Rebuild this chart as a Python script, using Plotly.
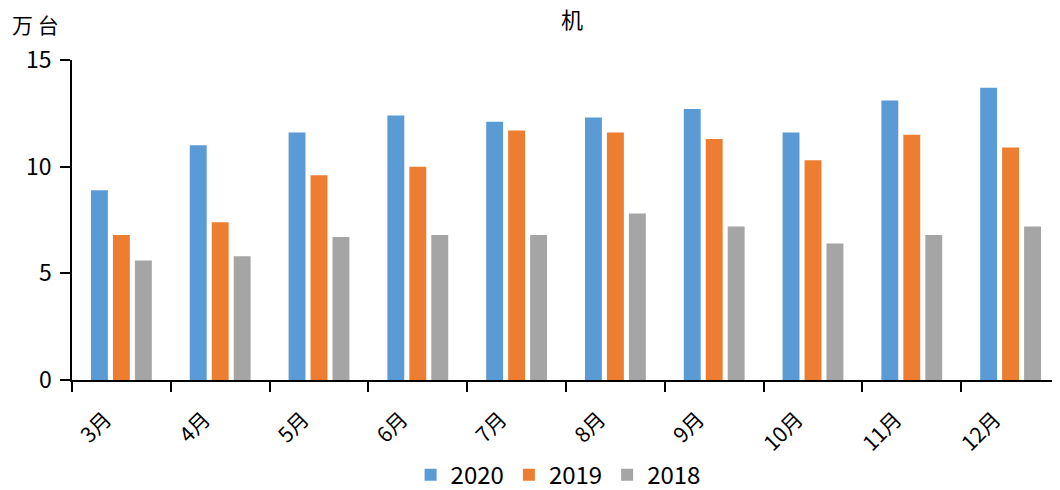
import plotly.graph_objects as go

months = ["3月", "4月", "5月", "6月", "7月", "8月", "9月", "10月", "11月", "12月"]
v2020 = [8.9, 11.0, 11.6, 12.4, 12.1, 12.3, 12.7, 11.6, 13.1, 13.7]
v2019 = [6.8, 7.4, 9.6, 10.0, 11.7, 11.6, 11.3, 10.3, 11.5, 10.9]
v2018 = [5.6, 5.8, 6.7, 6.8, 6.8, 7.8, 7.2, 6.4, 6.8, 7.2]
series = [("2020", v2020, "#5B9BD5"), ("2019", v2019, "#ED7D31"), ("2018", v2018, "#A5A5A5")]

font = "Noto Sans CJK SC, Noto Sans, sans-serif"
fig = go.Figure()
for name, vals, color in series:
    fig.add_trace(go.Bar(x=months, y=vals, name=name, marker=dict(color=color, line=dict(width=0))))

fig.update_layout(
    width=1052, height=482,
    margin=dict(l=64, r=0, t=52, b=110, autoexpand=False),
    paper_bgcolor="white", plot_bgcolor="white",
    barmode="group", bargap=0.333, bargroupgap=0.23,
    font=dict(family=font, color="#000000"),
    showlegend=True,
    legend=dict(orientation="h", x=0.492, xanchor="center", y=-0.297, yanchor="middle",
                font=dict(size=24, family=font), itemwidth=30, traceorder="normal"),
    xaxis=dict(showline=True, linecolor="black", linewidth=1.5, ticks="outside",
               tickson="boundaries", ticklen=10, tickcolor="black", tickwidth=1.5,
               tickangle=-45, tickfont=dict(size=21, family=font), showgrid=False,
               ticklabelstandoff=17, ticklabelshift=-16),
    yaxis=dict(range=[0, 15], dtick=5, showline=True, linecolor="black", linewidth=1.5,
               ticks="outside", ticklen=10, tickcolor="black", tickwidth=1.5,
               tickfont=dict(size=23, family=font), showgrid=False, zeroline=False,
               ticklabelstandoff=4),
    annotations=[
        dict(text="万 台", xref="paper", yref="paper", x=-0.0374, y=1.114,
             xanchor="center", yanchor="middle", showarrow=False,
             font=dict(size=21, family=font)),
        dict(text="机", xref="paper", yref="paper", x=0.506, y=1.13,
             xanchor="center", yanchor="middle", showarrow=False,
             font=dict(size=22, family=font)),
    ],
)
fig.write_html("out.html")
